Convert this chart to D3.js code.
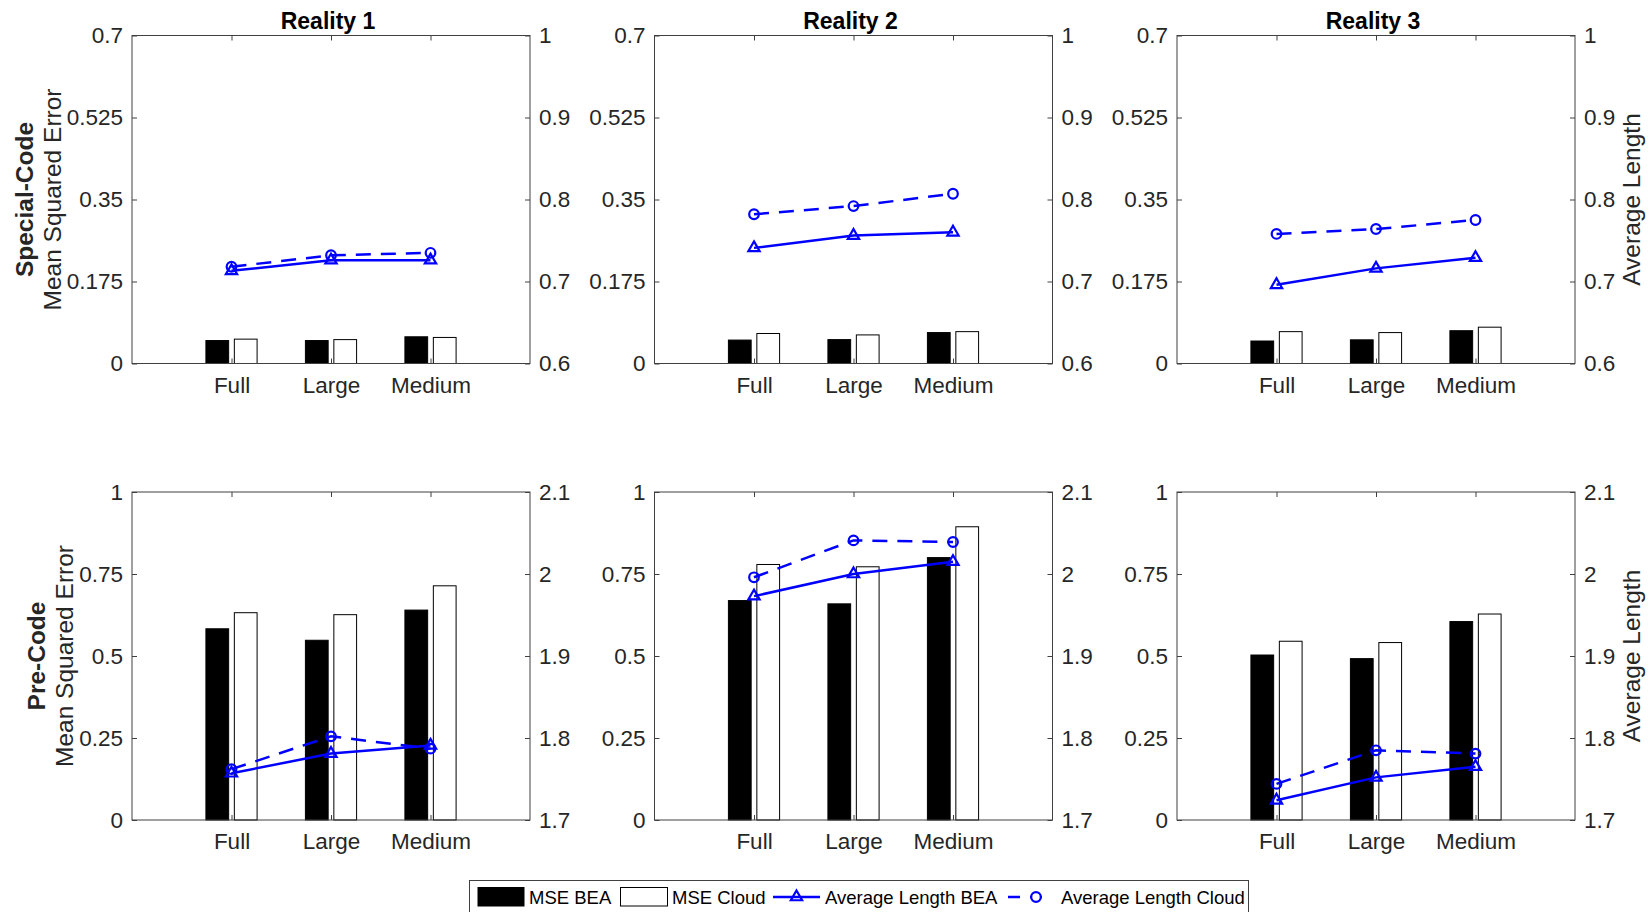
<!DOCTYPE html>
<html>
<head>
<meta charset="utf-8">
<script src="https://cdn.jsdelivr.net/npm/d3@7"></script>
<style>
  body { margin: 0; background: #fff; }
  svg { display: block; font-family: "Liberation Sans", Arial, Helvetica, sans-serif; }
  .axis line { stroke: #404040; stroke-width: 1; }
  .axis text { fill: #262626; font-size: 22.5px; }
</style>
</head>
<body>
<div id="chart"></div>
<script>
// categories / panels
const categories = ["Full", "Large", "Medium"];
const realities = ["Reality 1", "Reality 2", "Reality 3"];
const rowNames = ["Special-Code", "Pre-Code"];

// Special-Code row: one array per reality (Full, Large, Medium)
const mseBEASpecial   = [[0.049, 0.049, 0.057], [0.050, 0.051, 0.066], [0.048, 0.0505, 0.070]];
const mseCloudSpecial = [[0.052, 0.051, 0.0556], [0.064, 0.061, 0.068], [0.068, 0.066, 0.0775]];
const lenBEASpecial   = [[0.713, 0.726, 0.726], [0.741, 0.756, 0.760], [0.696, 0.716, 0.729]];
const lenCloudSpecial = [[0.718, 0.732, 0.735], [0.782, 0.792, 0.807], [0.758, 0.764, 0.775]];

// Pre-Code row
const mseBEAPre   = [[0.583, 0.548, 0.640], [0.669, 0.659, 0.800], [0.503, 0.492, 0.605]];
const mseCloudPre = [[0.632, 0.626, 0.714], [0.779, 0.772, 0.894], [0.545, 0.541, 0.628]];
const lenBEAPre   = [[1.757, 1.781, 1.791], [1.973, 2.000, 2.015], [1.724, 1.752, 1.765]];
const lenCloudPre = [[1.762, 1.802, 1.787], [1.996, 2.041, 2.039], [1.744, 1.785, 1.781]];

// tick values
const mseTicksSpecial = [0, 0.175, 0.35, 0.525, 0.7];
const lenTicksSpecial = [0.6, 0.7, 0.8, 0.9, 1];
const mseTicksPre = [0, 0.25, 0.5, 0.75, 1];
const lenTicksPre = [1.7, 1.8, 1.9, 2, 2.1];

const rows = [
  { mseBEA: mseBEASpecial, mseCloud: mseCloudSpecial, lenBEA: lenBEASpecial, lenCloud: lenCloudSpecial,
    mseTicks: mseTicksSpecial, lenTicks: lenTicksSpecial },
  { mseBEA: mseBEAPre, mseCloud: mseCloudPre, lenBEA: lenBEAPre, lenCloud: lenCloudPre,
    mseTicks: mseTicksPre, lenTicks: lenTicksPre }
];

const width = 1652, height = 912;
const panelLeft = [132, 654.5, 1177];
const panelTop = [35.5, 492];
const panelW = 398, panelH = 328;
const barW = 0.2286, barOff = 0.1429;
const blue = "#0000ff";

const svg = d3.select("#chart").append("svg")
    .attr("width", width)
    .attr("height", height);
svg.append("rect").attr("width", width).attr("height", height).attr("fill", "#fff");

const triangle = d3.symbol().type(d3.symbolTriangle).size(55);

rows.forEach(function(row, r) {
  realities.forEach(function(title, c) {
    const g = svg.append("g")
        .attr("transform", "translate(" + panelLeft[c] + "," + panelTop[r] + ")");

    const x = d3.scaleLinear().domain([0, 4]).range([0, panelW]);
    const yL = d3.scaleLinear().domain(d3.extent(row.mseTicks)).range([panelH, 0]);
    const yR = d3.scaleLinear().domain(d3.extent(row.lenTicks)).range([panelH, 0]);

    // bars
    const bw = x(barW) - x(0);
    categories.forEach(function(cat, i) {
      g.append("rect")
          .attr("x", x(i + 1 - barOff - barW / 2))
          .attr("y", yL(row.mseBEA[c][i]))
          .attr("width", bw)
          .attr("height", panelH - yL(row.mseBEA[c][i]))
          .attr("fill", "#000").attr("stroke", "#000").attr("stroke-width", 1);
      g.append("rect")
          .attr("x", x(i + 1 + barOff - barW / 2))
          .attr("y", yL(row.mseCloud[c][i]))
          .attr("width", bw)
          .attr("height", panelH - yL(row.mseCloud[c][i]))
          .attr("fill", "#fff").attr("stroke", "#000").attr("stroke-width", 1);
    });

    // axes
    g.append("g").attr("class", "axis")
        .attr("transform", "translate(0," + panelH + ")")
        .call(d3.axisBottom(x).tickValues([1, 2, 3]).tickFormat(d => categories[d - 1])
            .tickSizeInner(-5).tickSizeOuter(0).tickPadding(13.5))
        .call(a => a.select(".domain").remove());
    g.append("g").attr("class", "axis")
        .call(d3.axisTop(x).tickValues([1, 2, 3]).tickFormat("")
            .tickSizeInner(-5).tickSizeOuter(0))
        .call(a => a.select(".domain").remove());
    g.append("g").attr("class", "axis")
        .call(d3.axisLeft(yL).tickValues(row.mseTicks).tickFormat(d => String(d))
            .tickSizeInner(-5).tickSizeOuter(0).tickPadding(9))
        .call(a => a.select(".domain").remove());
    g.append("g").attr("class", "axis")
        .attr("transform", "translate(" + panelW + ",0)")
        .call(d3.axisRight(yR).tickValues(row.lenTicks).tickFormat(d => String(d))
            .tickSizeInner(-5).tickSizeOuter(0).tickPadding(9))
        .call(a => a.select(".domain").remove());

    g.append("rect")
        .attr("width", panelW).attr("height", panelH)
        .attr("fill", "none").attr("stroke", "#404040").attr("stroke-width", 1);

    // average length lines
    const line = d3.line().x((d, i) => x(i + 1)).y(d => yR(d));
    g.append("path")
        .datum(row.lenBEA[c])
        .attr("d", line)
        .attr("fill", "none").attr("stroke", blue).attr("stroke-width", 2.5);
    g.selectAll(".tri")
        .data(row.lenBEA[c]).enter().append("path")
        .attr("class", "tri")
        .attr("d", triangle)
        .attr("transform", (d, i) => "translate(" + x(i + 1) + "," + yR(d) + ")")
        .attr("fill", "none").attr("stroke", blue).attr("stroke-width", 2.2);

    g.append("path")
        .datum(row.lenCloud[c])
        .attr("d", line)
        .attr("fill", "none").attr("stroke", blue).attr("stroke-width", 2.5)
        .attr("stroke-dasharray", "15,10");
    g.selectAll(".circ")
        .data(row.lenCloud[c]).enter().append("circle")
        .attr("class", "circ")
        .attr("cx", (d, i) => x(i + 1))
        .attr("cy", d => yR(d))
        .attr("r", 4.8)
        .attr("fill", "none").attr("stroke", blue).attr("stroke-width", 2.2);

    // titles on top row
    if (r === 0) {
      g.append("text")
          .attr("x", panelW / 2 - 3).attr("y", -7)
          .attr("text-anchor", "middle")
          .style("font-size", "23px").style("font-weight", "bold").style("fill", "#000")
          .text(title);
    }
    // left labels
    if (c === 0) {
      const cy = panelH / 2;
      const lx = r === 0 ? -80 : -68;
      g.append("text")
          .attr("transform", "translate(" + lx + "," + cy + ") rotate(-90)")
          .attr("text-anchor", "middle").attr("dy", "0.35em")
          .style("font-size", "24.5px").style("fill", "#262626")
          .text("Mean Squared Error");
      g.append("text")
          .attr("transform", "translate(" + (lx - 28) + "," + cy + ") rotate(-90)")
          .attr("text-anchor", "middle").attr("dy", "0.35em")
          .style("font-size", "24.5px").style("font-weight", "bold").style("fill", "#262626")
          .text(rowNames[r]);
    }
    // right label on last panel
    if (c === 2) {
      g.append("text")
          .attr("transform", "translate(454," + (panelH / 2) + ") rotate(-90)")
          .attr("text-anchor", "middle").attr("dy", "0.35em")
          .style("font-size", "24.5px").style("fill", "#262626")
          .text("Average Length");
    }
  });
});

// legend
const legend = svg.append("g").style("font-size", "18.5px");
legend.append("rect")
    .attr("x", 469.5).attr("y", 880.5).attr("width", 779).attr("height", 34)
    .attr("fill", "#fff").attr("stroke", "#404040").attr("stroke-width", 1);
legend.append("rect").attr("x", 478).attr("y", 887.5).attr("width", 46).attr("height", 18.5)
    .attr("fill", "#000").attr("stroke", "#000");
legend.append("text").attr("x", 529).attr("y", 904).text("MSE BEA");
legend.append("rect").attr("x", 620.5).attr("y", 887.5).attr("width", 47).attr("height", 18.5)
    .attr("fill", "#fff").attr("stroke", "#000");
legend.append("text").attr("x", 672).attr("y", 904).text("MSE Cloud");
legend.append("line").attr("x1", 773).attr("x2", 820).attr("y1", 897).attr("y2", 897)
    .attr("stroke", blue).attr("stroke-width", 2.5);
legend.append("path").attr("d", triangle).attr("transform", "translate(796.5,897)")
    .attr("fill", "none").attr("stroke", blue).attr("stroke-width", 2.2);
legend.append("text").attr("x", 825).attr("y", 904).text("Average Length BEA");
legend.append("line").attr("x1", 1008).attr("x2", 1050).attr("y1", 897).attr("y2", 897)
    .attr("stroke", blue).attr("stroke-width", 2.5).attr("stroke-dasharray", "12,10");
legend.append("circle").attr("cx", 1036).attr("cy", 897).attr("r", 4.8)
    .attr("fill", "#fff").attr("stroke", blue).attr("stroke-width", 2.2);
legend.append("text").attr("x", 1061).attr("y", 904).text("Average Length Cloud");
</script>
</body>
</html>
